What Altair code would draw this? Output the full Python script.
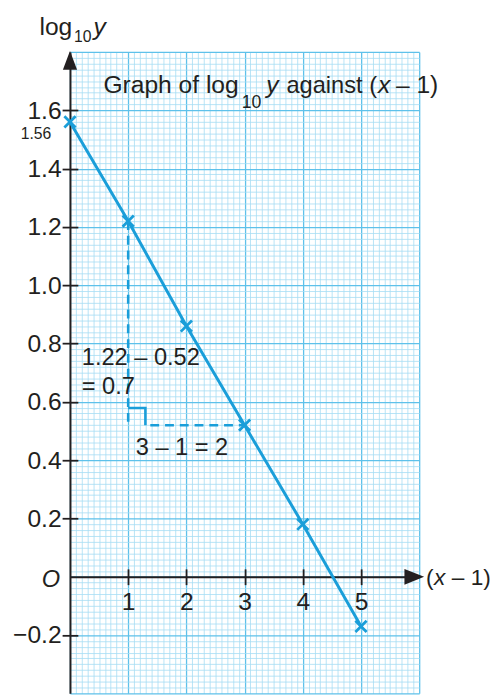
import altair as alt
import pandas as pd
import numpy as np

# ---------------- data ----------------
x_vals = [0, 1, 2, 3, 4, 5]                      # (x - 1)
logy_vals = [1.56, 1.22, 0.86, 0.52, 0.18, -0.17]  # log10 y
x_tick_values = [1, 2, 3, 4, 5]
y_tick_values = [-0.2, 0.2, 0.4, 0.6, 0.8, 1.0, 1.2, 1.4, 1.6]
x_domain = [0, 6]
y_domain = [-0.4, 1.8]

# ---------------- style ----------------
W, H = 355, 652
FONT = "Liberation Sans"
INK = "#231f20"
BLUE = "#1a9ed9"
GRID_MAJOR = "#5ec1ea"
GRID_MINOR = "#a6dcf4"

y_unit_px = H / (y_domain[1] - y_domain[0])
y0_px = (y_domain[1] - 0) * y_unit_px  # pixel position of y = 0 inside plot

df = pd.DataFrame({"x": x_vals, "y": logy_vals})

xs = alt.Scale(domain=x_domain, nice=False, zero=False)
ys = alt.Scale(domain=y_domain, nice=False, zero=False)

minor_x = [round(v, 2) for v in np.arange(x_domain[0], x_domain[1] + 1e-9, 0.1)]
minor_y = [round(v, 2) for v in np.arange(y_domain[0], y_domain[1] + 1e-9, 0.02)]


def cond(test, yes, no):
    return {"condition": {"test": test, "value": yes}, "value": no}


X_MAJOR = "abs(datum.value - round(datum.value)) < 0.001"
Y_MAJOR = "abs(datum.value * 5 - round(datum.value * 5)) < 0.001"

# ---------------- graph-paper grid ----------------
grid = alt.Chart(df).mark_point(opacity=0).encode(
    x=alt.X("x:Q", scale=xs, axis=alt.Axis(
        orient="bottom", values=minor_x, grid=True, labels=False, ticks=False,
        domain=False, title=None,
        gridColor=cond(X_MAJOR, GRID_MAJOR, GRID_MINOR),
        gridWidth=cond(X_MAJOR, 1.3, 0.8), gridOpacity=1)),
    y=alt.Y("y:Q", scale=ys, axis=alt.Axis(
        orient="left", values=minor_y, grid=True, labels=False, ticks=False,
        domain=False, title=None,
        gridColor=cond(Y_MAJOR, GRID_MAJOR, GRID_MINOR),
        gridWidth=cond(Y_MAJOR, 1.3, 0.8), gridOpacity=1)),
)

# ---------------- axes through the origin ----------------
LABEL_SIZE = 25
x_axis = alt.Chart(df).mark_point(opacity=0).encode(
    x=alt.X("x:Q", scale=xs, axis=alt.Axis(
        orient="bottom", offset=-(H - y0_px), values=x_tick_values, format="d",
        grid=False, domain=True, domainColor=INK, domainWidth=2,
        ticks=True, tickSize=8, tickWidth=1.8, tickColor=INK,
        labelFont=FONT, labelFontSize=LABEL_SIZE, labelColor=INK, labelPadding=5,
        labelFlush=False, title=None)),
    y=alt.Y("y:Q", scale=ys, axis=None),
)
x_axis_up = alt.Chart(df).mark_point(opacity=0).encode(
    x=alt.X("x:Q", scale=xs, axis=alt.Axis(
        orient="top", offset=-y0_px, values=x_tick_values, grid=False,
        domain=False, labels=False, ticks=True, tickSize=8, tickWidth=1.8,
        tickColor=INK, title=None)),
    y=alt.Y("y:Q", scale=ys, axis=None),
)
y_axis = alt.Chart(df).mark_point(opacity=0).encode(
    x=alt.X("x:Q", scale=xs, axis=None),
    y=alt.Y("y:Q", scale=ys, axis=alt.Axis(
        orient="left", values=y_tick_values, format=".1f", grid=False,
        domain=True, domainColor=INK, domainWidth=2,
        ticks=True, tickSize=8, tickWidth=1.8, tickColor=INK,
        labelFont=FONT, labelFontSize=LABEL_SIZE, labelColor=INK, labelPadding=1,
        labelFlush=False, title=None)),
)
y_axis_right = alt.Chart(df).mark_point(opacity=0).encode(
    x=alt.X("x:Q", scale=xs, axis=None),
    y=alt.Y("y:Q", scale=ys, axis=alt.Axis(
        orient="right", offset=-W, values=y_tick_values, grid=False,
        domain=False, labels=False, ticks=True, tickSize=8, tickWidth=1.8,
        tickColor=INK, title=None)),
)

# ---------------- data line & crosses ----------------
base = alt.Chart(df).encode(
    x=alt.X("x:Q", scale=xs, axis=None),
    y=alt.Y("y:Q", scale=ys, axis=None),
)
line = base.mark_line(color=BLUE, strokeWidth=3)
crosses = base.mark_point(shape="M-1,-1L1,1M-1,1L1,-1", size=130, filled=False,
                          stroke=BLUE, strokeWidth=2.8, opacity=1)

# ---------------- gradient triangle ----------------
i1, i3 = x_vals.index(1), x_vals.index(3)
rise_df = pd.DataFrame({"x": [x_vals[i1]], "y": [logy_vals[i1]], "y2": [logy_vals[i3]]})
rise = alt.Chart(rise_df).mark_rule(color=BLUE, strokeWidth=2.6, strokeDash=[9, 6]).encode(
    x=alt.X("x:Q", scale=xs, axis=None),
    y=alt.Y("y:Q", scale=ys, axis=None), y2="y2:Q")
run_df = pd.DataFrame({"x": [1.38], "x2": [x_vals[i3]], "y": [logy_vals[i3]]})
run = alt.Chart(run_df).mark_rule(color=BLUE, strokeWidth=2.6, strokeDash=[9, 6]).encode(
    x=alt.X("x:Q", scale=xs, axis=None), x2="x2:Q",
    y=alt.Y("y:Q", scale=ys, axis=None))
corner_df = pd.DataFrame({"x": [x_vals[i1]], "y": [logy_vals[i3]]})
corner = alt.Chart(corner_df).mark_point(
    shape="M0,-1L1,-1L1,0", size=1225, filled=False, stroke=BLUE,
    strokeWidth=2.6, opacity=1).encode(
    x=alt.X("x:Q", scale=xs, axis=None), y=alt.Y("y:Q", scale=ys, axis=None))

# ---------------- arrow heads ----------------
arrow_up = alt.Chart(pd.DataFrame({"x": [x_domain[0]], "y": [y_domain[1]]})).mark_point(
    shape="M0,-0.05L0.4,1L-0.4,1Z", size=1296, filled=True, color=INK, opacity=1).encode(
    x=alt.X("x:Q", scale=xs, axis=None), y=alt.Y("y:Q", scale=ys, axis=None))
arrow_right = alt.Chart(pd.DataFrame({"x": [x_domain[1]], "y": [0]})).mark_point(
    shape="M0.25,0L-0.75,0.4L-0.75,-0.4Z", size=1600, filled=True, color=INK, opacity=1).encode(
    x=alt.X("x:Q", scale=xs, axis=None), y=alt.Y("y:Q", scale=ys, axis=None))


# ---------------- text ----------------
def txt(label, x, y, size=24, italic=False, align="left"):
    d = pd.DataFrame({"x": [x], "y": [y], "t": [label]})
    kw = dict(font=FONT, fontSize=size, color=INK, align=align, baseline="alphabetic")
    if italic:
        kw["fontStyle"] = "italic"
    return alt.Chart(d).mark_text(**kw).encode(
        x=alt.X("x:Q", scale=xs, axis=None),
        y=alt.Y("y:Q", scale=ys, axis=None),
        text="t:N")


texts = [
    # y-axis label  log10 y
    txt("log", -0.524, 1.857, 25),
    txt("10", 0.068, 1.835, 16),
    txt("y", 0.405, 1.857, 25, italic=True),
    # title
    txt("Graph of log", 0.575, 1.658, 25),
    txt("10", 2.95, 1.607, 18),
    txt("y", 3.37, 1.658, 25, italic=True),
    txt("against (", 3.72, 1.658, 24),
    txt("x", 5.29, 1.658, 25, italic=True),
    txt("– 1)", 5.60, 1.658, 25),
    # intercept label
    txt("1.56", -0.321, 1.50, 16, align="right"),
    # gradient annotations
    txt("1.22 – 0.52", 0.203, 0.728, 24),
    txt("= 0.7", 0.203, 0.627, 24),
    txt("3 – 1 = 2", 1.13, 0.417, 24),
    # origin and x-axis label
    txt("O", -0.169, -0.035, 24, italic=True, align="right"),
    txt("(", 6.118, -0.028, 23),
    txt("x", 6.253, -0.028, 23, italic=True),
    txt("– 1)", 6.56, -0.028, 23),
]

chart = alt.layer(
    grid, x_axis, x_axis_up, y_axis, y_axis_right,
    line, rise, run, corner, crosses, arrow_up, arrow_right, *texts
).resolve_axis(
    x="independent", y="independent"
).properties(
    width=W, height=H,
    autosize=alt.AutoSizeParams(type="none"),
    padding={"left": 63, "top": 39, "right": 74, "bottom": 0},
).configure_view(stroke=None)

chart.save("out.html", embed_options={"renderer": "svg", "actions": False})
